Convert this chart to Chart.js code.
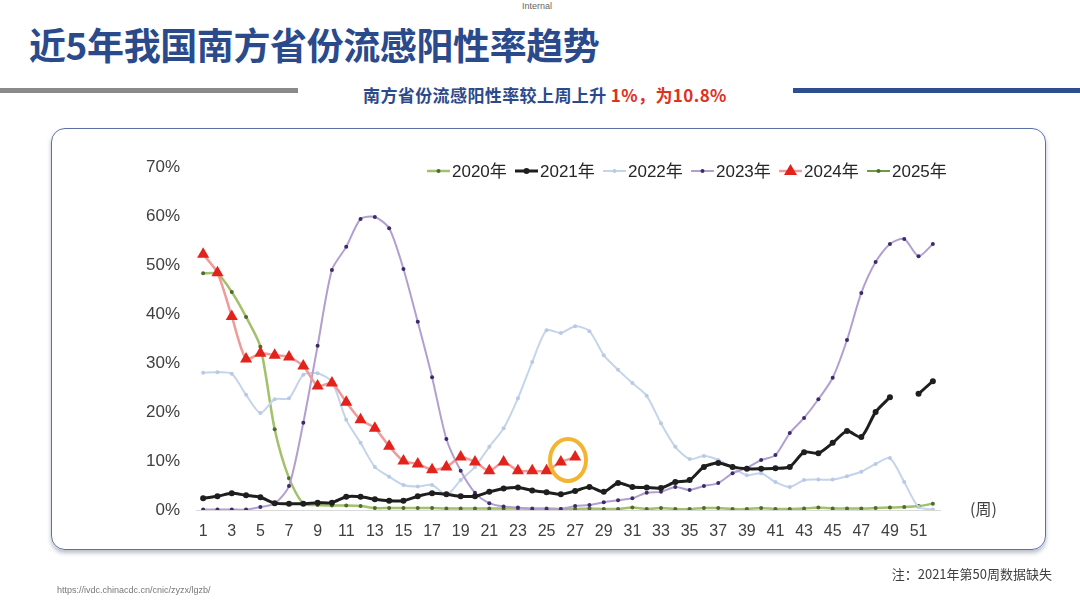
<!DOCTYPE html>
<html>
<head>
<meta charset="utf-8">
<script src="https://cdn.jsdelivr.net/npm/chart.js@4/dist/chart.umd.min.js"></script>
<style>
  body { margin: 0; width: 1080px; height: 600px; position: relative; background: #fff; overflow: hidden;
         font-family: "Liberation Sans", "Noto Sans CJK SC", sans-serif; }
  .abs { position: absolute; white-space: nowrap; }
  #internal { left: 522px; top: 1px; font-size: 9px; color: #666; }
  #title { left: 29px; top: 17px; font-size: 37px; font-weight: bold; color: #2b4a8b;
           font-family: "Noto Sans CJK SC", sans-serif; letter-spacing: -0.4px; }
  #barGray { left: 0; top: 88px; width: 298px; height: 5px; background: #8a8a8a; }
  #barBlue { left: 793px; top: 88px; width: 287px; height: 5px; background: #2d4f8f; }
  #subtitle { left: 363px; top: 82px; font-size: 17px; font-weight: bold; color: #2b4a8b;
              font-family: "Noto Sans CJK SC", sans-serif; letter-spacing: 0.4px; }
  #subtitle span { color: #e03020; }
  #box { left: 51px; top: 128px; width: 993px; height: 420px; border: 1.5px solid #5a70a6;
         border-radius: 14px; box-shadow: 0 3px 4px rgba(60,70,100,0.35); }
  #unit { left: 970px; top: 496px; font-size: 16px; color: #404040; font-family: "Noto Sans CJK SC", sans-serif; }
  #note { right: 28px; top: 564px; font-size: 13px; color: #404040; font-family: "Noto Sans CJK SC", sans-serif; }
  #src { left: 57px; top: 585px; font-size: 9px; color: #777; }
  #chartWrap { position: absolute; left: 0; top: 0; width: 1080px; height: 600px; }
</style>
</head>
<body>
<div class="abs" id="internal">Internal</div>
<div class="abs" id="title">近5年我国南方省份流感阳性率趋势</div>
<div class="abs" id="barGray"></div>
<div class="abs" id="barBlue"></div>
<div class="abs" id="subtitle">南方省份流感阳性率较上周上升 <span>1%，为10.8%</span></div>
<div class="abs" id="box"></div>
<div id="chartWrap"><canvas id="fluChart" width="1080" height="600"></canvas></div>
<div class="abs" id="unit">(周)</div>
<div class="abs" id="note">注：2021年第50周数据缺失</div>
<div class="abs" id="src">https://ivdc.chinacdc.cn/cnic/zyzx/lgzb/</div>

<script>
// week numbers on the x axis
const weeks = ['1','2','3','4','5','6','7','8','9','10','11','12','13','14','15','16','17','18','19','20',
  '21','22','23','24','25','26','27','28','29','30','31','32','33','34','35','36','37','38','39','40',
  '41','42','43','44','45','46','47','48','49','50','51','52'];

// positive rate (%) per week
const y2020 = [48.3, 48.2, 44.5, 39.4, 33.3, 16.5, 6.5, 1.3, 1.0, 0.9,
  0.9, 0.8, 0.4, 0.4, 0.4, 0.4, 0.4, 0.3, 0.3, 0.3,
  0.3, 0.3, 0.3, 0.3, 0.3, 0.2, 0.2, 0.3, 0.2, 0.2,
  0.5, 0.2, 0.4, 0.2, 0.2, 0.4, 0.4, 0.2, 0.2, 0.4,
  0.2, 0.2, 0.3, 0.5, 0.3, 0.3, 0.3, 0.4, 0.5, 0.6,
  0.8, 1.3];
const y2021 = [2.4, 2.8, 3.4, 3.0, 2.6, 1.4, 1.3, 1.3, 1.5, 1.5,
  2.7, 2.7, 2.2, 1.9, 1.9, 2.8, 3.4, 3.2, 2.8, 2.8,
  3.7, 4.4, 4.6, 4.0, 3.6, 3.2, 3.9, 4.7, 3.7, 5.5,
  4.7, 4.6, 4.5, 5.7, 6.1, 8.8, 9.6, 8.8, 8.4, 8.4,
  8.5, 8.8, 11.8, 11.6, 13.7, 16.1, 14.9, 20.0, 23.0, null,
  23.7, 26.3];
const y2022 = [28.0, 28.1, 27.8, 23.5, 19.8, 22.6, 22.8, 27.6, 27.9, 26.2,
  18.4, 13.7, 8.8, 6.8, 5.1, 4.8, 5.1, 3.1, 6.1, 8.8,
  12.9, 16.7, 22.8, 30.2, 36.7, 36.1, 37.5, 36.5, 31.6, 28.6,
  25.9, 23.3, 17.7, 12.9, 10.4, 11.0, 10.2, 8.6, 7.1, 7.5,
  5.7, 4.7, 6.1, 6.2, 6.2, 6.9, 7.8, 9.4, 10.6, 5.7,
  0.6, 0.1];
const y2023 = [0.1, 0.1, 0.1, 0.1, 0.6, 1.3, 4.9, 17.8, 33.5, 49.0,
  53.7, 59.4, 59.8, 57.5, 49.2, 38.4, 27.1, 14.5, 8.0, 3.5,
  1.4, 0.7, 0.5, 0.2, 0.2, 0.2, 0.8, 1.0, 1.6, 2.0,
  2.4, 3.5, 3.7, 4.7, 4.1, 4.9, 5.5, 7.5, 8.6, 10.2,
  11.2, 15.7, 18.8, 22.6, 27.0, 34.7, 44.3, 50.6, 54.3, 55.3,
  51.8, 54.3];
const y2024 = [52.2, 48.4, 39.5, 30.8, 32.0, 31.6, 31.2, 29.4, 25.3, 25.9,
  22.0, 18.4, 16.7, 13.0, 10.0, 9.4, 8.2, 8.8, 10.8, 9.8,
  8.0, 9.8, 8.0, 8.0, 8.0, 9.8, 10.8];
const y2025 = [];

const yTicks = [0, 10, 20, 30, 40, 50, 60, 70];

const series = [
  { label: '2020年', data: y2020, line: '#a3c06a', point: '#4d6b2c', width: 2.5, radius: 2, style: 'circle', order: 5 },
  { label: '2021年', data: y2021, line: '#1e1e1e', point: '#1e1e1e', width: 3, radius: 3, style: 'circle', order: 2 },
  { label: '2022年', data: y2022, line: '#c4d4ea', point: '#b8cae4', width: 2, radius: 2, style: 'circle', order: 4 },
  { label: '2023年', data: y2023, line: '#b29fd0', point: '#3d2a6a', width: 2, radius: 2, style: 'circle', order: 3 },
  { label: '2024年', data: y2024, line: '#f09a9a', point: '#e3221c', width: 2.5, radius: 7, style: 'triangle', order: 0 },
  { label: '2025年', data: y2025, line: '#6f9a3e', point: '#4d6b2c', width: 2, radius: 2, style: 'circle', order: 6 }
];

// legend drawn inside the plot, like the original
const legendPlugin = {
  id: 'legendInside',
  afterDraw(chart) {
    const c = chart.ctx;
    c.save();
    c.font = '17px "Liberation Sans", "Noto Sans CJK SC", sans-serif';
    c.textBaseline = 'middle';
    series.forEach((s, i) => {
      const x0 = 427 + i * 88, y = 171;
      c.strokeStyle = s.line;
      c.lineWidth = s.width;
      c.beginPath(); c.moveTo(x0, y); c.lineTo(x0 + 23, y); c.stroke();
      c.fillStyle = s.point;
      if (s.style === 'triangle') {
        c.beginPath();
        c.moveTo(x0 + 11.5, y - 7); c.lineTo(x0 + 18, y + 4); c.lineTo(x0 + 5, y + 4);
        c.closePath(); c.fill();
      } else {
        c.beginPath(); c.arc(x0 + 11.5, y, s.radius, 0, Math.PI * 2); c.fill();
      }
      c.fillStyle = '#262626';
      c.fillText(s.label, x0 + 25, y + 1);
    });
    c.restore();
  }
};

// orange ring around the latest two weeks of 2024
const ringPlugin = {
  id: 'ring',
  afterDatasetsDraw(chart) {
    const xs = chart.scales.x, ys = chart.scales.y;
    const cx = (xs.getPixelForValue(25) + xs.getPixelForValue(26)) / 2;
    const cy = ys.getPixelForValue(10.2);
    const c = chart.ctx;
    c.save();
    c.strokeStyle = '#f2b431';
    c.lineWidth = 4;
    c.beginPath();
    c.ellipse(cx, cy, 18, 21, 0, 0, Math.PI * 2);
    c.stroke();
    c.restore();
  }
};

const ctx = document.getElementById('fluChart').getContext('2d');
new Chart(ctx, {
  type: 'line',
  data: {
    labels: weeks,
    datasets: series.map(s => ({
      label: s.label,
      data: s.data,
      borderColor: s.line,
      backgroundColor: s.point,
      pointBackgroundColor: s.point,
      pointBorderColor: s.point,
      pointBorderWidth: 0,
      borderWidth: s.width,
      pointRadius: s.radius,
      pointStyle: s.style,
      tension: 0.25,
      spanGaps: false,
      order: s.order
    }))
  },
  options: {
    responsive: false,
    animation: false,
    layout: { padding: { left: 146, right: 140, top: 167, bottom: 48 } },
    plugins: { legend: { display: false }, tooltip: { enabled: false } },
    scales: {
      x: {
        offset: true,
        grid: { display: false, drawTicks: false },
        border: { display: true, color: '#d9d9d9', width: 1 },
        afterFit: axis => { axis.height = 42; },
        ticks: {
          autoSkip: false,
          maxRotation: 0,
          padding: 12,
          color: '#404040',
          font: { size: 16, family: '"Liberation Sans", sans-serif' },
          callback: (v, i) => (i % 2 === 0 ? weeks[i] : '')
        }
      },
      y: {
        min: 0,
        max: 70,
        afterBuildTicks: axis => { axis.ticks = yTicks.map(v => ({ value: v })); },
        afterFit: axis => { axis.width = 50; },
        grid: { display: false, drawTicks: false },
        border: { display: false },
        ticks: {
          padding: 16,
          color: '#404040',
          font: { size: 17, family: '"Liberation Sans", sans-serif' },
          callback: v => v + '%'
        }
      }
    }
  },
  plugins: [legendPlugin, ringPlugin]
});
</script>
</body>
</html>
